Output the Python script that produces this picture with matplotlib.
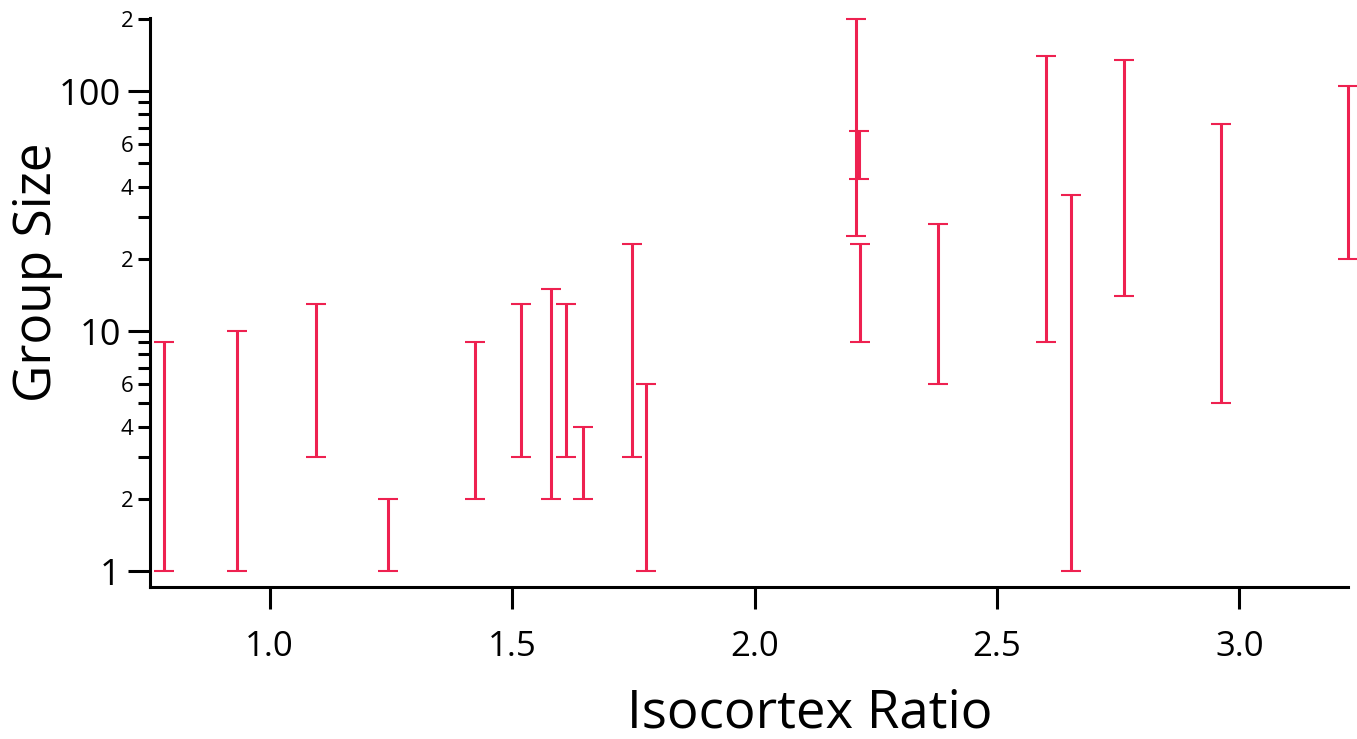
import numpy as np
import matplotlib
matplotlib.use("Agg")
import matplotlib.pyplot as plt
from matplotlib.ticker import FixedLocator, FixedFormatter

plt.rcParams['font.family'] = ['Open Sans', 'DejaVu Sans']

# isocortex ratio per species and min / max group size
ratio = [0.783, 0.932, 1.095, 1.243, 1.423, 1.518, 1.581, 1.612, 1.647, 1.748,
         1.777, 2.210, 2.216, 2.218, 2.379, 2.602, 2.652, 2.761, 2.963, 3.223]
group_min = [1, 1, 3, 1, 2, 3, 2, 3, 2, 3, 1, 25, 43, 9, 6, 9, 1, 14, 5, 20]
group_max = [9, 10, 13, 2, 9, 13, 15, 13, 4, 23, 6, 200, 68, 23, 28, 140, 37, 135, 73, 105]

major_ticks = [1, 10, 100]
minor_ticks = [2, 3, 4, 5, 6, 7, 8, 9, 20, 30, 40, 50, 60, 70, 80, 90, 200]
minor_labels = ["2", "", "4", "", "6", "", "", "", "2", "", "4", "", "6", "", "", "", "2"]
x_ticks = [1.0, 1.5, 2.0, 2.5, 3.0]

red = "#EE2150"

fig = plt.figure(figsize=(13.57, 7.39), dpi=100)
ax = fig.add_axes([0.1105, 0.2057, 0.8829, 0.7699])

lo = np.array(group_min, dtype=float)
hi = np.array(group_max, dtype=float)
ax.errorbar(ratio, lo, yerr=[np.zeros_like(lo), hi - lo], fmt='none',
            ecolor=red, elinewidth=2.2, capsize=7.2, capthick=1.5, clip_on=False)

ax.set_yscale('log')
ax.set_ylim(0.858, 201.5)
ax.set_xlim(0.753, 3.224)

ax.yaxis.set_major_locator(FixedLocator(major_ticks))
ax.yaxis.set_major_formatter(FixedFormatter(["1", "10", "100"]))
ax.yaxis.set_minor_locator(FixedLocator(minor_ticks))
ax.yaxis.set_minor_formatter(FixedFormatter(minor_labels))
ax.set_xticks(x_ticks)
ax.set_xticklabels(["1.0", "1.5", "2.0", "2.5", "3.0"])
ax.xaxis.set_minor_locator(FixedLocator([]))

ax.tick_params(axis='y', which='major', length=16, width=2.2, labelsize=26, pad=5)
ax.tick_params(axis='y', which='minor', length=9, width=2.2, labelsize=16, pad=3)
ax.tick_params(axis='x', which='major', length=16, width=2.2, labelsize=25, pad=15)

for side in ['top', 'right']:
    ax.spines[side].set_visible(False)
for side in ['left', 'bottom']:
    ax.spines[side].set_linewidth(2.2)

ax.set_xlabel("Isocortex Ratio", fontsize=38)
ax.xaxis.set_label_coords(0.551, -0.175)
ax.set_ylabel("Group Size", fontsize=37)
ax.yaxis.set_label_coords(-0.0726, 0.554)

fig.savefig("out.png", dpi=100)
